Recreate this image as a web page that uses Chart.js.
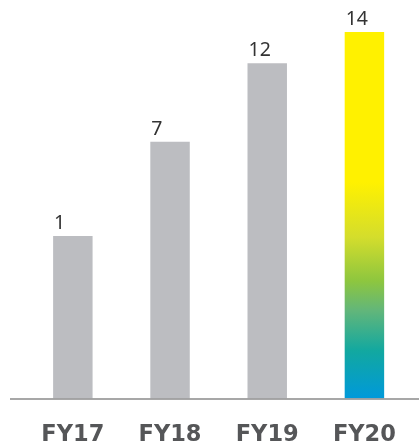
<!DOCTYPE html>
<html>
<head>
<meta charset="utf-8">
<script src="https://cdn.jsdelivr.net/npm/chart.js@4.4.1/dist/chart.umd.min.js"></script>
<style>
  html, body { margin: 0; padding: 0; background: #fff; }
  canvas { display: block; }
</style>
</head>
<body>
<canvas id="fyChart" width="419" height="446"></canvas>
<script>
// data
const categories = ["FY17", "FY18", "FY19", "FY20"];
const values = [1, 7, 12, 14];

// value axis range (bars rise from the bottom of the plot, not from zero)
const yMin = -9.36;
const yMax = 14.76;

const GREY = "#bcbdc1";
const highlight = values.length - 1;

function fy20Gradient(chart) {
  const area = chart.chartArea;
  if (!area) return "#fff100";
  const top = chart.scales.y.getPixelForValue(values[highlight]);
  const g = chart.ctx.createLinearGradient(0, top, 0, area.bottom);
  g.addColorStop(0, "#fff100");
  g.addColorStop(0.41, "#fff100");
  g.addColorStop(0.56, "#d4dd2c");
  g.addColorStop(0.68, "#8dc63f");
  g.addColorStop(0.76, "#62b67a");
  g.addColorStop(0.87, "#12a8a0");
  g.addColorStop(1, "#0099da");
  return g;
}

// value labels, left aligned with each bar
const valueLabels = {
  id: "valueLabels",
  afterDatasetsDraw(chart) {
    const ctx = chart.ctx;
    const meta = chart.getDatasetMeta(0);
    ctx.save();
    ctx.font = "19.5px 'Noto Sans'";
    ctx.fillStyle = "#333333";
    ctx.textAlign = "left";
    ctx.textBaseline = "alphabetic";
    meta.data.forEach((bar, i) => {
      ctx.fillText(String(values[i]), bar.x - bar.width / 2 + 1, bar.y - 7);
    });
    ctx.restore();
  }
};

// baseline rule, runs wider than the plot
const baseLine = {
  id: "baseLine",
  afterDatasetsDraw(chart) {
    const ctx = chart.ctx;
    const y = chart.chartArea.bottom + 0.5;
    ctx.save();
    ctx.strokeStyle = "#8a8a8a";
    ctx.lineWidth = 1.5;
    ctx.beginPath();
    ctx.moveTo(10, y);
    ctx.lineTo(chart.width, y);
    ctx.stroke();
    ctx.restore();
  }
};

new Chart(document.getElementById("fyChart"), {
  type: "bar",
  data: {
    labels: categories,
    datasets: [{
      data: values,
      base: yMin,
      backgroundColor: ctx => ctx.dataIndex === highlight ? fy20Gradient(ctx.chart) : GREY,
      borderWidth: 0,
      categoryPercentage: 1,
      barPercentage: 0.406
    }]
  },
  options: {
    responsive: false,
    animation: false,
    layout: { padding: { left: 24.25, right: 0.75, top: 20, bottom: 0 } },
    plugins: {
      legend: { display: false },
      tooltip: { enabled: false }
    },
    scales: {
      x: {
        grid: { display: false, drawTicks: false },
        border: { display: false },
        ticks: {
          padding: 23,
          color: "#555658",
          font: { family: "'DejaVu Sans'", size: 22.5, weight: "bold" }
        },
        afterFit: scale => { scale.height = 47.5; }
      },
      y: {
        display: false,
        min: yMin,
        max: yMax
      }
    }
  },
  plugins: [valueLabels, baseLine]
});
</script>
</body>
</html>
